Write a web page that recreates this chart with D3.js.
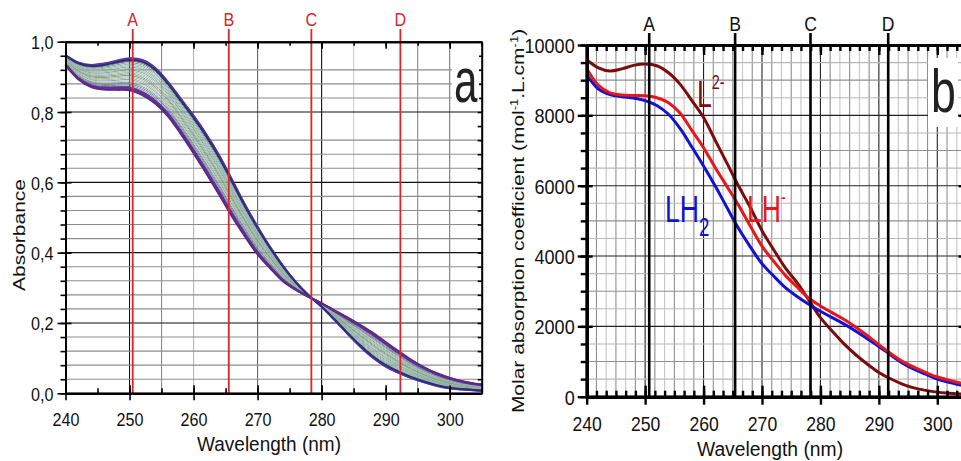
<!DOCTYPE html>
<html><head><meta charset="utf-8">
<script src="https://cdn.jsdelivr.net/npm/d3@7"></script>
<style>
body{margin:0;background:#fff}
svg{display:block}
text{font-family:"Liberation Sans",Arial,Helvetica,sans-serif}
</style>
</head><body>
<svg id="c" width="961" height="461"></svg>
<script>
// ---------------- data ----------------
const wavelengths = [240,242,244,246,248,250,252,254,256,258,260,262,264,266,268,270,272,274,276,278,280,282,284,286,288,290,292,294,296,298,300,302,304,305];
// panel a: first and last spectra of the titration (absorbance)
const absHigh = [0.962,0.941,0.934,0.938,0.946,0.953,0.948,0.926,0.886,0.838,0.790,0.737,0.677,0.608,0.538,0.474,0.415,0.362,0.316,0.278,0.246,0.209,0.170,0.133,0.101,0.076,0.058,0.043,0.031,0.021,0.014,0.011,0.008,0.007];
const absLow  = [0.934,0.893,0.871,0.864,0.863,0.862,0.848,0.824,0.788,0.738,0.683,0.625,0.565,0.503,0.447,0.395,0.355,0.318,0.294,0.274,0.256,0.236,0.216,0.195,0.172,0.146,0.120,0.095,0.074,0.057,0.044,0.034,0.027,0.025];
// absorbance at 250 nm of each recorded spectrum (read from the bundle)
const absAt250 = [0.953,0.951,0.948,0.944,0.940,0.936,0.932,0.928,0.924,0.920,0.916,0.912,0.908,0.904,0.900,0.896,0.892,0.888,0.884,0.880,0.876,0.872,0.869,0.866,0.864,0.862];
const spectrumColors = ["#4b2a8c","#6a3aa2","#2d2d80","#56707c","#8f9a6a","#6cc0c0","#a9b59a","#7fa3bf","#b8b58a","#5fae9a","#b0bcb0","#80bccc","#a09a70","#6fa07f","#c4ae8a","#86c8b6","#9494c0","#b4c8c8","#7e9a66","#5d8f9c","#9a7aac","#3f5f94","#5a3a8a","#6a2a9a","#7030a0","#5b2a86"];
// panel b: molar absorption coefficients
const epsL2  = [9580,9350,9260,9320,9420,9460,9410,9210,8880,8420,7940,7290,6640,5990,5380,4720,4180,3660,3240,2750,2250,1870,1510,1200,930,690,510,360,250,180,130,100,75,65];
const epsLH  = [9330,8850,8640,8580,8565,8555,8500,8360,8060,7570,7080,6510,5980,5440,4850,4280,3850,3450,3120,2800,2580,2390,2200,1980,1740,1480,1230,1010,840,690,560,470,390,370];
const epsLH2 = [9150,8750,8590,8530,8490,8420,8280,8030,7620,7100,6560,5990,5380,4780,4260,3780,3430,3100,2850,2630,2430,2250,2070,1870,1650,1430,1190,960,780,640,500,410,330,310];
const xTickValues = [240,250,260,270,280,290,300];
const yTicksA = [0,0.2,0.4,0.6,0.8,1.0];
const yTicksB = [0,2000,4000,6000,8000,10000];
const markerNames = ["A","B","C","D"];
const markersA = [250.5,265.5,278.4,292.3];
const markersB = [250.7,265.4,278.3,291.6];

// ---------------- helpers ----------------
const svg = d3.select("#c");
function squeeze(sel, sx){
  sel.each(function(){
    const t = d3.select(this);
    const x = +t.attr("x")||0, y = +t.attr("y")||0;
    t.attr("x",0).attr("y",0).attr("transform",`translate(${x},${y}) scale(${sx},1)`);
  });
}
function styleAxis(g, w){
  g.select(".domain").attr("stroke","#000").attr("stroke-width",w);
  g.selectAll(".tick line").attr("stroke","#000").attr("stroke-width",w*0.8);
}

// ================= PANEL A =================
const xA = d3.scaleLinear([240,305],[65.5,481.7]);
const yA = d3.scaleLinear([0,1],[393.3,41.7]);
const gA = svg.append("g");
const gridAx = [250,255,260,270,280,285,295,300];
const gridAxColor = {250:"#111",255:"#8a8a8a",260:"#b8b8b8",270:"#666",280:"#111",285:"#cfcfcf",295:"#8a8a8a",300:"#7a7a7a"};
gA.selectAll(".gvx").data(gridAx).join("line")
  .attr("x1",d=>xA(d)).attr("x2",d=>xA(d)).attr("y1",yA(1)).attr("y2",yA(0))
  .attr("stroke",d=>gridAxColor[d]).attr("stroke-width",1.1);
const gridAy = d3.range(1,25).map(i=>+(i*0.04).toFixed(2)).filter(v=>v!==0.76&&v!==0.96);
gA.selectAll(".ghy").data(gridAy).join("line")
  .attr("x1",xA(240)).attr("x2",xA(305)).attr("y1",d=>yA(d)).attr("y2",d=>yA(d))
  .attr("stroke",d=>(Math.abs(d/0.2-Math.round(d/0.2))<1e-6)?"#111":"#8c8c8c").attr("stroke-width",1.1);

// spectra
const lineA = d3.line().x((d,i)=>xA(wavelengths[i])).y(d=>yA(d)).curve(d3.curveCatmullRom.alpha(0.5));
const i250 = wavelengths.indexOf(250);
const hi250 = absHigh[i250], lo250 = absLow[i250];
const spectra = absAt250.map(a=>{ const t=(hi250-a)/(hi250-lo250); return absHigh.map((h,i)=>h+(absLow[i]-h)*t); });
const n = spectra.length;
const order = d3.range(n).filter(k=>k>2 && k<n-4).concat([0,1,2,n-4,n-3,n-2,n-1]);
order.forEach(k=>{
  const edge = (k<3 || k>n-5);
  gA.append("path").attr("d",lineA(spectra[k])).attr("fill","none")
    .attr("stroke",spectrumColors[k%spectrumColors.length]).attr("stroke-width",edge?2:1);
});

// red marker lines
gA.selectAll(".mk").data(markersA).join("line")
  .attr("x1",d=>xA(d)).attr("x2",d=>xA(d)).attr("y1",29).attr("y2",yA(0))
  .attr("stroke","#d9262a").attr("stroke-width",1.8);
gA.selectAll(".mkt").data(markersA).join("text")
  .attr("x",d=>xA(d)).attr("y",26).attr("text-anchor","middle")
  .attr("font-size",19).attr("fill","#d02a2a").text((d,i)=>markerNames[i])
  .call(squeeze,0.85);

// axes A
const minorA = d3.range(0,1.0001,0.04).map(v=>+v.toFixed(2));
const xMinorA = d3.range(240,306,5);
let ax;
ax = gA.append("g").attr("transform",`translate(${xA(240)},0)`).call(d3.axisLeft(yA).tickValues(minorA).tickSize(5).tickFormat("").tickSizeOuter(0)); styleAxis(ax,2);
ax = gA.append("g").attr("transform",`translate(${xA(240)},0)`).call(d3.axisRight(yA).tickValues(yTicksA).tickSize(6).tickFormat("").tickSizeOuter(0)); styleAxis(ax,2);
ax = gA.append("g").attr("transform",`translate(${xA(240)},0)`).call(d3.axisLeft(yA).tickValues(yTicksA).tickSize(8).tickSizeOuter(0).tickFormat(d=>d.toFixed(1).replace(".",",")));
styleAxis(ax,2);
ax.selectAll("text").attr("font-size",19).attr("fill","#111").attr("x",-12).attr("dy",null).attr("y",7).call(squeeze,0.85);
// right
ax = gA.append("g").attr("transform",`translate(${xA(305)},0)`).call(d3.axisLeft(yA).tickValues(minorA).tickSize(4).tickFormat("").tickSizeOuter(0)); styleAxis(ax,2);
// bottom
ax = gA.append("g").attr("transform",`translate(0,${yA(0)})`).call(d3.axisTop(xA).tickValues(xMinorA).tickSize(5).tickFormat("").tickSizeOuter(0)); styleAxis(ax,2);
ax = gA.append("g").attr("transform",`translate(0,${yA(0)})`).call(d3.axisTop(xA).tickValues(xTickValues).tickSize(8).tickFormat("").tickSizeOuter(0)); styleAxis(ax,2);
ax = gA.append("g").attr("transform",`translate(0,${yA(0)})`).call(d3.axisBottom(xA).tickValues(xTickValues).tickSize(7).tickSizeOuter(0));
styleAxis(ax,2);
ax.selectAll("text").attr("font-size",19).attr("fill","#111").attr("dy",null).attr("y",33).call(squeeze,0.85);
// top
ax = gA.append("g").attr("transform",`translate(0,${yA(1)})`).call(d3.axisBottom(xA).tickValues(xMinorA).tickSize(4).tickFormat("").tickSizeOuter(0)); styleAxis(ax,2);
ax = gA.append("g").attr("transform",`translate(0,${yA(1)})`).call(d3.axisBottom(xA).tickValues(xTickValues).tickSize(7).tickFormat("").tickSizeOuter(0)); styleAxis(ax,2);

// panel label a
gA.append("rect").attr("x",452).attr("y",55).attr("width",27).attr("height",55).attr("fill","#fff");
gA.append("text").attr("x",454).attr("y",102).attr("font-size",62).attr("fill","#222").text("a").call(squeeze,0.68);

// axis titles A
gA.append("text").attr("x",269).attr("y",451).attr("text-anchor","middle").attr("font-size",20).attr("fill","#111").text("Wavelength (nm)").call(squeeze,0.95);
gA.append("text").attr("text-anchor","middle").attr("font-size",21).attr("fill","#111")
  .attr("transform","translate(25,235) scale(0.8,1) rotate(-90)").text("Absorbance");

// ================= PANEL B =================
const xB = d3.scaleLinear([240,305],[586.7,966.5]);
const yB = d3.scaleLinear([0,10000],[396.7,45]);
const gB = svg.append("g");
const gridBx = d3.range(1,39).map(i=>240+i*10/6);
gB.selectAll(".gbx").data(gridBx).join("line")
  .attr("x1",d=>xB(d)).attr("x2",d=>xB(d)).attr("y1",yB(10000)).attr("y2",yB(0))
  .attr("stroke",(d,i)=>((i+1)%6===0)?"#222":((i%2===0)?"#8f8f8f":"#c6c6c6")).attr("stroke-width",1.1);
const gridBy = d3.range(500,10000,500);
gB.selectAll(".gby").data(gridBy).join("line")
  .attr("x1",xB(240)).attr("x2",xB(305)).attr("y1",d=>yB(d)).attr("y2",d=>yB(d))
  .attr("stroke",d=>(d%2000===0)?"#222":((d%1000===0)?"#8f8f8f":"#b8b8b8")).attr("stroke-width",1.1);

const lineB = d3.line().x((d,i)=>xB(wavelengths[i])).y(d=>yB(d)).curve(d3.curveCatmullRom.alpha(0.5));
[[epsL2,"#7a0c0c"],[epsLH2,"#1212d2"],[epsLH,"#e8161c"]].forEach(([s,c])=>{
  gB.append("path").attr("d",lineB(s)).attr("fill","none").attr("stroke",c).attr("stroke-width",3);
});

gB.selectAll(".mkb").data(markersB).join("line")
  .attr("x1",d=>xB(d)).attr("x2",d=>xB(d)).attr("y1",33).attr("y2",yB(0))
  .attr("stroke","#000").attr("stroke-width",2.6);
gB.selectAll(".mkbt").data(markersB).join("text")
  .attr("x",d=>xB(d)).attr("y",31).attr("text-anchor","middle")
  .attr("font-size",20).attr("fill","#111").text((d,i)=>markerNames[i])
  .call(squeeze,0.88);

const xMinorB = d3.range(0,40).map(i=>240+i*10/6);
const yMinorB = d3.range(0,10001,500);
ax = gB.append("g").attr("transform",`translate(${xB(240)},0)`).call(d3.axisLeft(yB).tickValues(yMinorB).tickSize(6).tickFormat("").tickSizeOuter(0)); styleAxis(ax,3);
ax = gB.append("g").attr("transform",`translate(${xB(240)},0)`).call(d3.axisRight(yB).tickValues(yTicksB).tickSize(6).tickFormat("").tickSizeOuter(0)); styleAxis(ax,3);
ax = gB.append("g").attr("transform",`translate(${xB(240)},0)`).call(d3.axisLeft(yB).tickValues(yTicksB).tickSize(9).tickSizeOuter(0).tickFormat(d3.format("d")));
styleAxis(ax,3);
ax.selectAll("text").attr("font-size",21).attr("fill","#111").attr("x",-12).attr("dy",null).attr("y",7.5).call(squeeze,0.86);
ax = gB.append("g").attr("transform",`translate(${xB(305)},0)`).call(d3.axisLeft(yB).tickValues(yTicksB).tickSize(8).tickFormat("").tickSizeOuter(0)); styleAxis(ax,3);
ax = gB.append("g").attr("transform",`translate(${xB(305)},0)`).call(d3.axisLeft(yB).tickValues(yMinorB).tickSize(4).tickFormat("").tickSizeOuter(0)); styleAxis(ax,3);
ax = gB.append("g").attr("transform",`translate(0,${yB(0)})`).call(d3.axisTop(xB).tickValues(xMinorB).tickSize(6).tickFormat("").tickSizeOuter(0)); styleAxis(ax,3);
ax = gB.append("g").attr("transform",`translate(0,${yB(0)})`).call(d3.axisTop(xB).tickValues(xTickValues).tickSize(11).tickFormat("").tickSizeOuter(0)); styleAxis(ax,3);
ax = gB.append("g").attr("transform",`translate(0,${yB(0)})`).call(d3.axisBottom(xB).tickValues(xTickValues).tickSize(8).tickSizeOuter(0));
styleAxis(ax,3);
ax.selectAll("text").attr("font-size",20).attr("fill","#111").attr("dy",null).attr("y",34).call(squeeze,0.88);
ax = gB.append("g").attr("transform",`translate(0,${yB(10000)})`).call(d3.axisBottom(xB).tickValues(xMinorB).tickSize(6).tickFormat("").tickSizeOuter(0)); styleAxis(ax,3);
ax = gB.append("g").attr("transform",`translate(0,${yB(10000)})`).call(d3.axisBottom(xB).tickValues(xTickValues).tickSize(10).tickFormat("").tickSizeOuter(0)); styleAxis(ax,3);

// panel label b
gB.append("rect").attr("x",928).attr("y",58).attr("width",30).attr("height",69).attr("fill","#fff");
gB.append("text").attr("x",931).attr("y",112).attr("font-size",62).attr("fill","#222").text("b").call(squeeze,0.72);

// species labels
function species(x,y,color,main,sup,sub){
  const t = gB.append("text").attr("font-size",37).attr("fill",color)
    .attr("transform",`translate(${x},${y}) scale(0.72,1)`);
  t.append("tspan").text(main);
  if(sup) t.append("tspan").attr("font-size",20).attr("dy",-18).text(sup);
  if(sub) t.append("tspan").attr("font-size",26).attr("dy",14).text(sub);
}
species(697,107,"#7a0c0c","L","2-",null);
species(747,222,"#e8161c","LH","-",null);
species(665,222,"#1212d2","LH","","2");

// axis titles B
gB.append("text").attr("x",770).attr("y",456).attr("text-anchor","middle").attr("font-size",21).attr("fill","#111").text("Wavelength (nm)").call(squeeze,0.92);
const yl = gB.append("text").attr("text-anchor","middle").attr("font-size",21).attr("fill","#111")
  .attr("transform","translate(524,221) scale(0.8,1) rotate(-90)");
yl.append("tspan").text("Molar absorption coefficient (mol");
yl.append("tspan").attr("font-size",13).attr("dy",-8).text("-1");
yl.append("tspan").attr("dy",8).text(".L.cm");
yl.append("tspan").attr("font-size",13).attr("dy",-8).text("-1");
yl.append("tspan").attr("dy",8).text(")");
</script>
</body></html>
